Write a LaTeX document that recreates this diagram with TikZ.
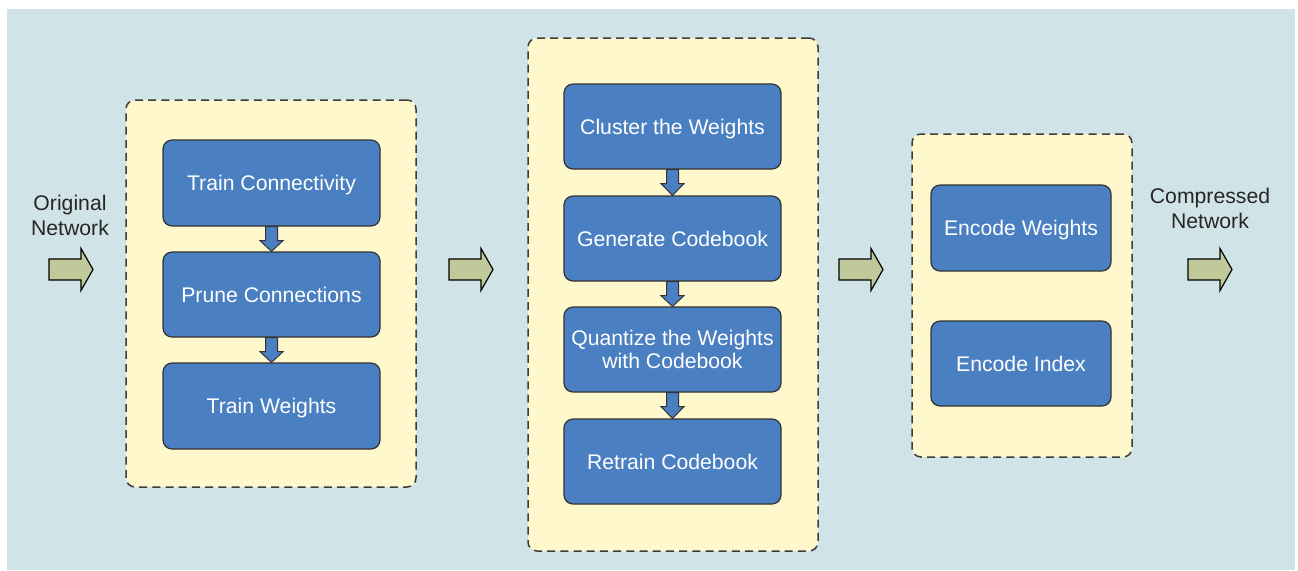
\documentclass[tikz,border=0pt]{standalone}
\usepackage{fontspec}
\setmainfont{Liberation Sans}
\usetikzlibrary{calc}
\definecolor{bgblue}{HTML}{D0E3E6}
\definecolor{grpyellow}{HTML}{FFF8CC}
\definecolor{boxblue}{HTML}{4A7FC1}
\definecolor{arrgreen}{HTML}{BFC99A}
\definecolor{edgegray}{HTML}{333333}
\definecolor{dashgray}{HTML}{3C3C3C}
\tikzset{
  grp/.style={draw=dashgray, fill=grpyellow, line width=0.75pt, dash pattern=on 4pt off 2.6pt, rounded corners=4.5pt},
  stepbox/.style={draw=edgegray, fill=boxblue, line width=0.6pt, rounded corners=4.5pt, text=white, font=\fontsize{10.6}{12}\selectfont, align=center, inner sep=0pt},
  oneline/.style={text height=7.6pt, text depth=0pt},
  conn/.style={draw=edgegray, fill=boxblue, line width=0.5pt, line join=miter},
  bigarr/.style={draw=black, fill=arrgreen, line width=0.6pt, line join=miter},
  lbl/.style={font=\fontsize{10.6}{12.5}\selectfont, text=black!85, align=center}
}
\newcommand{\mkbox}[7][oneline]{% [style] name, x1, y1, x2, y2, text
  \node[stepbox, #1, minimum width={(#5-#3)*0.5pt}, minimum height={(#6-#4)*0.5pt}] (#2) at ({(#3+#5)/2},{(#4+#6)/2}) {#7};}
\newcommand{\mkgrp}[5]{%
  \node[grp, minimum width={(#4-#2)*0.5pt}, minimum height={(#5-#3)*0.5pt}, inner sep=0pt] (#1) at ({(#2+#4)/2},{(#3+#5)/2}) {};}
\newcommand{\vconn}[2]{%
  \filldraw[conn] ($(#1.south)+(-6,0)$) -- ($(#1.south)+(6,0)$) -- ($(#1.south)+(6,14)$) -- ($(#1.south)+(11.5,14)$) -- (#2.north) -- ($(#1.south)+(-11.5,14)$) -- ($(#1.south)+(-6,14)$) -- cycle;}
\newcommand{\bigarrow}[2]{% name, x0
  \coordinate (#1) at (#2,269.5);
  \filldraw[bigarr] ($(#1)+(0,-10.5)$) -- ($(#1)+(32,-10.5)$) -- ($(#1)+(32,-21)$) -- ($(#1)+(44,0)$) -- ($(#1)+(32,21)$) -- ($(#1)+(32,10.5)$) -- ($(#1)+(0,10.5)$) -- cycle;}
\begin{document}
\begin{tikzpicture}[x=0.5pt,y=-0.5pt]
\useasboundingbox (0,0) rectangle (1298,570);
\fill[bgblue] (7,9) rectangle (1295,570);

\mkgrp{g1}{126}{100}{416}{487}
\mkgrp{g2}{528}{38}{818}{551}
\mkgrp{g3}{912}{134}{1132}{457}

\mkbox{a1}{163}{140}{380}{226}{Train Connectivity}
\mkbox{a2}{163}{252}{380}{337}{Prune Connections}
\mkbox{a3}{163}{363}{380}{449}{Train Weights}

\mkbox{b1}{564}{84}{781}{169}{Cluster the Weights}
\mkbox{b2}{564}{196}{781}{281}{Generate Codebook}
\mkbox[]{b3}{564}{307}{781}{392}{Quantize the Weights\\[-0.4pt]with Codebook}
\mkbox{b4}{564}{419}{781}{504}{Retrain Codebook}

\mkbox{c1}{931}{185}{1111}{271}{Encode Weights}
\mkbox{c2}{931}{321}{1111}{406}{Encode Index}

\vconn{a1}{a2}
\vconn{a2}{a3}
\vconn{b1}{b2}
\vconn{b2}{b3}
\vconn{b3}{b4}

\bigarrow{p1}{49}
\bigarrow{p2}{449}
\bigarrow{p3}{839}
\bigarrow{p4}{1188}

\node[lbl] (orig) at (70,215.5) {Original\\Network};
\node[lbl] (comp) at (1210,208.5) {Compressed\\Network};
\end{tikzpicture}
\end{document}
